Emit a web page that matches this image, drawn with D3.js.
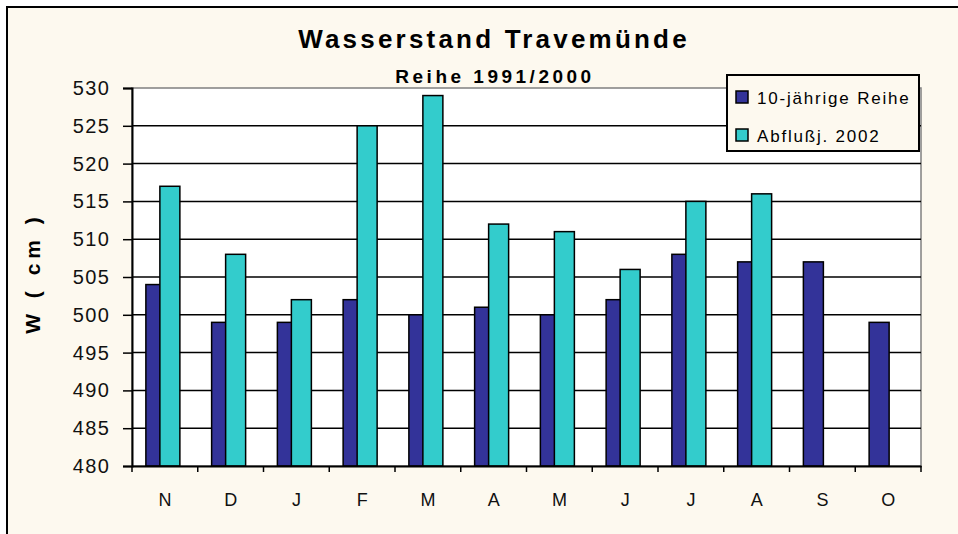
<!DOCTYPE html>
<html>
<head>
<meta charset="utf-8">
<script src="https://cdn.jsdelivr.net/npm/d3@7"></script>
<style>
  body { margin: 0; background: #fff; }
  svg { display: block; font-family: "Liberation Sans", Arial, sans-serif; }
</style>
</head>
<body>
<svg id="chart" width="958" height="534"></svg>
<script>
// month labels Nov..Oct (Abflußjahr)
const months = ["N", "D", "J", "F", "M", "A", "M", "J", "J", "A", "S", "O"];
const reihe = [504, 499, 499, 502, 500, 501, 500, 502, 508, 507, 507, 499];
const abfluss = [517, 508, 502, 525, 529, 512, 511, 506, 515, 516, null, null];
const seriesNames = ["10-jährige Reihe", "Abflußj. 2002"];
const seriesColors = ["#333399", "#33cccc"];
const yTicks = [480, 485, 490, 495, 500, 505, 510, 515, 520, 525, 530];

const svg = d3.select("#chart");
const m = { left: 132, right: 921, top: 88, bottom: 466 };

// outer frame
svg.append("rect")
  .attr("x", 7).attr("y", 7).attr("width", 980).attr("height", 560)
  .attr("fill", "#fdf9ef").attr("stroke", "#000").attr("stroke-width", 2);

// plot area
svg.append("rect")
  .attr("x", m.left).attr("y", m.top)
  .attr("width", m.right - m.left).attr("height", m.bottom - m.top)
  .attr("fill", "#fff").attr("stroke", "#808080").attr("stroke-width", 1.5);

const x = d3.scaleBand().domain(d3.range(months.length)).range([m.left, m.right]);
const y = d3.scaleLinear().domain([480, 530]).range([m.bottom, m.top]);

// gridlines
svg.append("g").selectAll("line")
  .data(yTicks.slice(1, -1))
  .join("line")
  .attr("x1", m.left).attr("x2", m.right)
  .attr("y1", d => y(d)).attr("y2", d => y(d))
  .attr("stroke", "#000").attr("stroke-width", 1.5);

// bars: width 20, second series overlaps the first by 6
const barW = 20, overlap = 6;
const groupW = barW * 2 - overlap;
const off = (x.bandwidth() - groupW) / 2 - 2;
[reihe, abfluss].forEach((vals, si) => {
  svg.append("g").selectAll("rect")
    .data(vals.map((v, i) => ({ v, i })).filter(d => d.v != null))
    .join("rect")
    .attr("x", d => x(d.i) + off + si * (barW - overlap))
    .attr("y", d => y(d.v))
    .attr("width", barW)
    .attr("height", d => y(480) - y(d.v))
    .attr("fill", seriesColors[si])
    .attr("stroke", "#000").attr("stroke-width", 1.5);
});

// y axis
const yAxis = svg.append("g")
  .attr("transform", `translate(${m.left},0)`)
  .call(d3.axisLeft(y).tickValues(yTicks).tickSize(9).tickPadding(12.5));
yAxis.select(".domain").attr("stroke", "#000").attr("stroke-width", 2);
yAxis.selectAll(".tick line").attr("stroke", "#000").attr("stroke-width", 1.5);
yAxis.selectAll("text").attr("font-size", 20).attr("fill", "#111")
  .attr("font-family", "Liberation Sans, Arial, sans-serif")
  .attr("letter-spacing", 1.5);

// x axis
const xAxis = svg.append("g")
  .attr("transform", `translate(0,${m.bottom})`)
  .call(d3.axisBottom(x).tickSize(0).tickFormat(i => months[i]).tickPadding(27));
xAxis.select(".domain").attr("stroke", "#000").attr("stroke-width", 2);
xAxis.selectAll("text").attr("font-size", 18).attr("fill", "#111")
  .attr("font-family", "Liberation Sans, Arial, sans-serif");
xAxis.selectAll(".sep")
  .data(d3.range(months.length + 1))
  .join("line")
  .attr("class", "sep")
  .attr("x1", i => i < months.length ? x(i) : m.right)
  .attr("x2", i => i < months.length ? x(i) : m.right)
  .attr("y1", 0).attr("y2", 6)
  .attr("stroke", "#000").attr("stroke-width", 1.5);

// titles
svg.append("text")
  .attr("x", 494).attr("y", 48).attr("text-anchor", "middle")
  .attr("font-size", 26).attr("font-weight", "bold").attr("letter-spacing", 3.2)
  .text("Wasserstand Travemünde");
svg.append("text")
  .attr("x", 495).attr("y", 83).attr("text-anchor", "middle")
  .attr("font-size", 19).attr("font-weight", "bold").attr("letter-spacing", 3.5)
  .text("Reihe 1991/2000");

// y axis title
svg.append("text")
  .attr("transform", "translate(40,273) rotate(-90)")
  .attr("text-anchor", "middle")
  .attr("font-size", 21).attr("font-weight", "bold")
  .attr("letter-spacing", 5)
  .text("W ( cm )");

// legend
const lg = svg.append("g").attr("transform", "translate(727,75)");
lg.append("rect").attr("width", 192).attr("height", 76)
  .attr("fill", "#fdf9ef").attr("stroke", "#000").attr("stroke-width", 2);
seriesNames.forEach((name, i) => {
  const row = lg.append("g").attr("transform", `translate(9,${16 + i * 38})`);
  row.append("rect").attr("width", 12).attr("height", 12)
    .attr("fill", seriesColors[i]).attr("stroke", "#000").attr("stroke-width", 1.5);
  row.append("text").attr("x", 21).attr("y", 13)
    .attr("font-size", 17).attr("letter-spacing", 1.8)
    .text(name);
});
</script>
</body>
</html>
